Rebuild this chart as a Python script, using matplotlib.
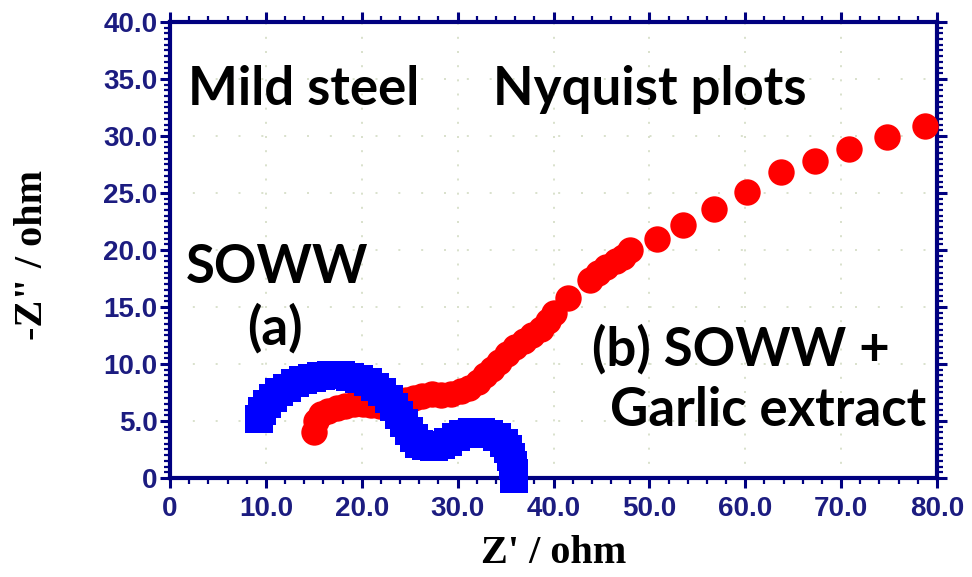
import matplotlib
matplotlib.use("Agg")
import matplotlib.pyplot as plt
from matplotlib.ticker import MultipleLocator, FuncFormatter

# SOWW (a) - blue squares
soww_x = [9.3, 9.6, 10.1, 10.7, 11.4, 12.2, 13.0, 13.9, 14.8, 15.8, 16.8, 17.8,
          18.8, 19.7, 20.6, 21.4, 22.1, 22.8, 23.4, 23.9, 24.4, 24.9, 25.4, 26.0,
          26.7, 27.5, 28.3, 29.0, 29.8, 30.6, 31.5, 32.4, 33.3, 34.1, 34.8, 35.3,
          35.6, 35.8, 35.9, 35.9]
soww_y = [5.2, 5.9, 6.5, 7.0, 7.5, 7.9, 8.3, 8.6, 8.8, 8.95, 9.0, 9.0,
          8.9, 8.7, 8.4, 8.0, 7.5, 6.9, 6.2, 5.5, 4.8, 4.1, 3.5, 3.0,
          2.8, 2.75, 2.9, 3.2, 3.6, 3.9, 4.05, 4.05, 3.9, 3.6, 3.1, 2.5,
          1.8, 1.1, 0.4, -0.1]

# SOWW + garlic extract (b) - red circles
garlic_x = [15.0, 15.2, 15.7, 16.5, 17.4, 18.3, 19.2, 20.1, 21.0, 21.9, 22.8, 23.7,
            24.6, 25.5, 26.3, 27.3, 28.3, 29.3, 30.3, 31.2, 32.1, 32.9, 33.6, 34.3,
            35.1, 36.0, 36.9, 37.8, 38.7, 39.4, 40.0, 41.5, 43.8, 44.6, 45.5, 46.5,
            47.3, 48.0, 50.8, 53.5, 56.7, 60.2, 63.7, 67.3, 70.8, 74.8, 78.7]
garlic_y = [4.0, 5.0, 5.6, 5.9, 6.1, 6.3, 6.5, 6.5, 6.4, 6.3, 6.4, 6.6,
            6.8, 7.0, 7.2, 7.4, 7.3, 7.4, 7.6, 7.9, 8.4, 9.0, 9.6, 10.2,
            10.9, 11.5, 12.0, 12.5, 13.1, 13.8, 14.5, 15.8, 17.4, 18.0, 18.5, 19.0,
            19.4, 20.0, 21.0, 22.2, 23.6, 25.1, 26.8, 27.8, 28.9, 29.9, 30.9]

navy = '#000080'
tick_col = '#1c1c80'

fig = plt.figure(figsize=(9.72, 5.77), dpi=100)
ax = fig.add_axes([0.1749, 0.1716, 0.7891, 0.7903])

ax.plot(garlic_x, garlic_y, 'o', color='#ff0000', markersize=19, markeredgewidth=0,
        clip_on=False, zorder=3)
ax.plot(soww_x, soww_y, 's', color='#0000ff', markersize=20, markeredgewidth=0,
        clip_on=False, zorder=4)

ax.set_xlim(0, 80)
ax.set_ylim(0, 40)
ax.xaxis.set_major_locator(MultipleLocator(10))
ax.xaxis.set_minor_locator(MultipleLocator(2))
ax.yaxis.set_major_locator(MultipleLocator(5))
ax.yaxis.set_minor_locator(MultipleLocator(0.5))
fmt = FuncFormatter(lambda v, p: '0' if v == 0 else '%.1f' % v)
ax.xaxis.set_major_formatter(fmt)
ax.yaxis.set_major_formatter(fmt)

for s in ax.spines.values():
    s.set_color(navy)
    s.set_linewidth(3)
    s.set_zorder(2)

ax.tick_params(which='both', direction='out', top=True, right=True, color=navy)
ax.tick_params(which='major', length=7, width=2.2)
ax.tick_params(which='minor', length=4, width=1.6)
ax.tick_params(axis='x', pad=6)
ax.tick_params(axis='y', pad=2)
for lab in ax.get_xticklabels() + ax.get_yticklabels():
    lab.set_fontfamily('Liberation Sans')
    lab.set_fontweight('bold')
    lab.set_fontsize(20)
    lab.set_color(tick_col)

ax.xaxis.grid(True, color='#d3dcc4', linewidth=1.2, linestyle=(0, (1.2, 7.3)), zorder=0)
ax.yaxis.grid(True, color='#d3dcc4', linewidth=1.2, linestyle=(0, (1.2, 12.5)), zorder=0)

ax.set_xlabel("Z' / ohm", fontfamily='Liberation Serif', fontweight='bold', fontsize=29)
ax.set_ylabel('-Z" / ohm', fontfamily='Liberation Serif', fontweight='bold', fontsize=29)
ax.xaxis.set_label_coords(0.5, -0.125)
ax.yaxis.set_label_coords(-0.155, 0.49)

txt = dict(fontfamily='Lato', fontweight='bold', fontsize=38, color='black',
           va='baseline', ha='left', zorder=5)
ax.text(1.9, 32.7, 'Mild steel', **txt)
ax.text(33.7, 32.7, 'Nyquist plots', **txt)
ax.text(1.6, 17.1, 'SOWW', **txt)
ax.text(8.0, 11.7, '(a)', **txt)
ax.text(44.0, 9.9, '(b) SOWW +', **txt)
ax.text(45.9, 4.6, 'Garlic extract', **txt)

fig.savefig('out.png', dpi=100)
